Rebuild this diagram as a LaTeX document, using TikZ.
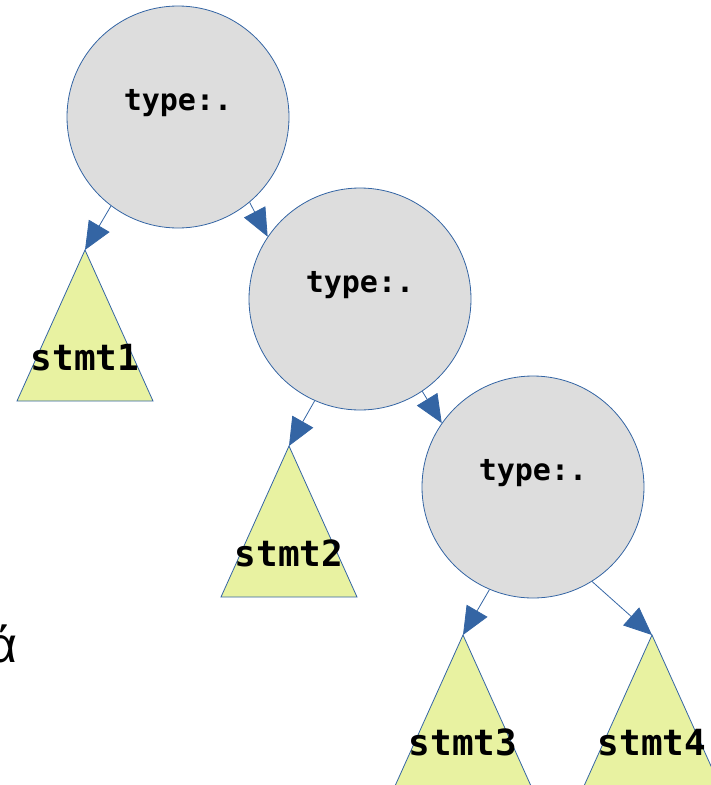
\documentclass[tikz,border=0pt]{standalone}
\usepackage{fontspec}
\setmonofont{DejaVu Sans Mono}
\newfontfamily\greekfont{Liberation Sans}
\usetikzlibrary{arrows.meta,positioning}
\definecolor{nodeblue}{HTML}{3465A4}
\definecolor{nodegray}{HTML}{DDDDDD}
\definecolor{stmtgreen}{HTML}{E8F2A1}
\tikzset{
  typenode/.style={circle,draw=nodeblue,fill=nodegray,line width=0.8pt,minimum size=222pt,
    inner sep=0pt,font=\ttfamily\bfseries\fontsize{30}{36}\selectfont,text height=22pt,text depth=35pt},
  stmttri/.style={draw=nodeblue,fill=stmtgreen,line width=0.8pt},
  stmtlabel/.style={anchor=base,font=\ttfamily\bfseries\fontsize{36}{43}\selectfont},
  edgearrow/.style={draw=nodeblue,line width=0.8pt,-{Triangle[length=28pt,width=24pt,fill=nodeblue]}}
}

\begin{document}
\begin{tikzpicture}[x=1pt,y=-1pt]
  \useasboundingbox (0,0) rectangle (710,785);            % page size

  \node[typenode] (c1) at (178,117) {type:.};            % root
  \node[typenode] (c2) at (360,299) {type:.};            % middle
  \node[typenode] (c3) at (533,487) {type:.};            % bottom

  \coordinate (t1) at (85,250);                          % tops of the subtrees
  \coordinate (t2) at (289,446);
  \coordinate (t3) at (463,635);
  \coordinate (t4) at (652,635);

  \draw[stmttri] (t1) -- ++(68,151) -- ++(-136,0) -- cycle;   % subtree 1
  \draw[stmttri] (t2) -- ++(68,151) -- ++(-136,0) -- cycle;   % subtree 2
  \draw[stmttri] (t3) -- ++(68,151) -- ++(-136,0) -- cycle;   % subtree 3
  \draw[stmttri] (t4) -- ++(68,151) -- ++(-136,0) -- cycle;   % subtree 4

  \node[stmtlabel] (s1) at (85,370) {stmt1};
  \node[stmtlabel] (s2) at (289,566) {stmt2};
  \node[stmtlabel] (s3) at (463,755) {stmt3};
  \node[stmtlabel] (s4) at (652,755) {stmt4};

  \draw[edgearrow] (c1.-127) -- (t1);                    % left children
  \draw[edgearrow] (c2.-114) -- (t2);
  \draw[edgearrow] (c3.-113) -- (t3);

  \draw[edgearrow] (c1.-50) -- (c2.146);                 % right children
  \draw[edgearrow] (c2.-56) -- (c3.145);
  \draw[edgearrow] (c3.-58) -- (t4);

  \node[anchor=base east,font=\greekfont\fontsize{50}{60}\selectfont] (alpha) at (21,662) {ά};
\end{tikzpicture}
\end{document}
